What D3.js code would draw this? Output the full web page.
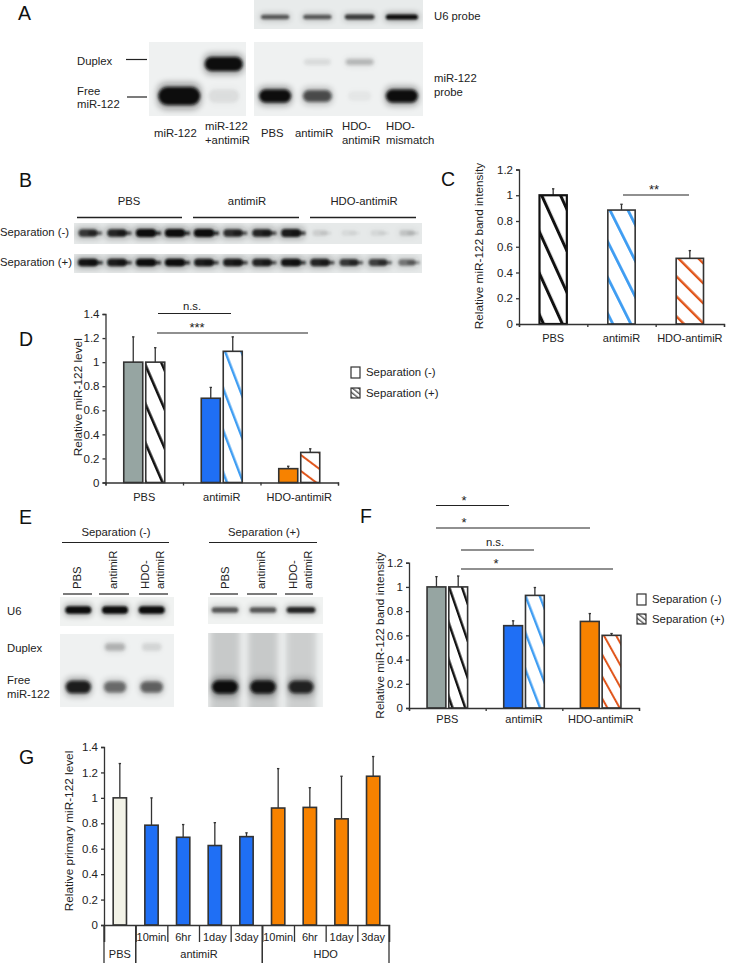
<!DOCTYPE html>
<html>
<head>
<meta charset="utf-8">
<script src="https://cdn.jsdelivr.net/npm/d3@7"></script>
<style>
  body { margin: 0; background: #fff; }
  svg { display: block; }
  text { font-family: "Liberation Sans", Arial, sans-serif; font-size: 11.3px; fill: #222; }
  .panel { font-size: 19.5px; fill: #111; }
  .axis path, .axis line { stroke: #333; stroke-width: 1.3; }
  .axis text { font-size: 11.5px; fill: #222; }
</style>
</head>
<body>
<svg id="fig" width="730" height="963"></svg>
<script>
// ---- data ----
const treatments = ['PBS', 'antimiR', 'HDO-antimiR'];
const separations = ['minus', 'plus'];
const yTicks12 = [0, 0.2, 0.4, 0.6, 0.8, 1, 1.2];
const yTicks14 = [0, 0.2, 0.4, 0.6, 0.8, 1, 1.2, 1.4];

const cValues = [1.0, 0.885, 0.51];
const cErrTop = [1.05, 0.93, 0.57];

const dMinus = [1.0, 0.7, 0.115];
const dMinusErrTop = [1.21, 0.79, 0.135];
const dPlus = [1.0, 1.09, 0.25];
const dPlusErrTop = [1.12, 1.21, 0.28];

const fMinus = [1.0, 0.68, 0.715];
const fMinusErrTop = [1.085, 0.72, 0.78];
const fPlus = [1.0, 0.93, 0.6];
const fPlusErrTop = [1.09, 0.995, 0.615];

const gLabels = ['PBS', '10min', '6hr', '1day', '3day', '10min', '6hr', '1day', '3day'];
const gValues = [1.0, 0.785, 0.69, 0.625, 0.695, 0.92, 0.925, 0.835, 1.17];
const gErrTop = [1.27, 1.0, 0.79, 0.805, 0.725, 1.23, 1.08, 1.17, 1.325];
const gGroups = ['PBS', 'antimiR', 'HDO'];
const gGroupSpan = [[0, 1], [1, 5], [5, 9]];

// gel band darkness per lane
const aU6 = [0.6, 0.6, 0.75, 1];
const aProbeDuplex = [0, 0.07, 0.2, 0];
const aProbeFree = [1, 0.65, 0.03, 1];
const aLoadDuplex = [0, 1];
const aLoadFree = [1, 0.06];
const bMinus = [0.75, 0.85, 1, 1, 1, 0.8, 0.85, 0.9, 0.09, 0.05, 0.06, 0.13];
const bPlus = [0.95, 0.9, 1, 1, 0.9, 0.9, 0.85, 0.95, 0.85, 0.75, 0.7, 0.45];
const eU6Minus = [1, 1, 1];
const eU6Plus = [0.6, 0.6, 0.85];
const eDuplexMinus = [0, 0.22, 0.09];
const eFreeMinus = [0.9, 0.5, 0.55];
const eSmearPlus = [0.23, 0.23, 0.2];
const eFreePlus = [1, 0.95, 0.85];

const colors = { gray: '#96a5a2', blue: '#1f6ff5', orange: '#f78200', cream: '#f2f2e7',
  black: '#111', skyblue: '#3f9df2', rust: '#e0561c' };

const svg = d3.select('#fig');
const defs = svg.append('defs');
function blurFilter(id, sd, xPad, yPad) {
  defs.append('filter').attr('id', id).attr('x', -xPad).attr('y', -yPad)
    .attr('width', 1 + 2 * xPad).attr('height', 1 + 2 * yPad)
    .append('feGaussianBlur').attr('stdDeviation', sd);
}
blurFilter('blurSmall', 1, 0.3, 1);
blurFilter('blur', 1.6, 0.3, 1);
blurFilter('blurHalo', 3.2, 0.5, 1.5);
blurFilter('blurWide', 3, 0.4, 0.2);

let uid = 0;

function hatchFill(color, x, y, spacing, slope, width) {
  const id = 'hatch' + (uid++);
  const perp = spacing / Math.sqrt(1 + slope * slope);
  const angle = Math.atan(1 / slope) * 180 / Math.PI;
  const p = defs.append('pattern').attr('id', id)
    .attr('patternUnits', 'userSpaceOnUse')
    .attr('width', perp).attr('height', perp)
    .attr('patternTransform', `translate(${x},${y}) rotate(${-angle})`);
  p.append('rect').attr('width', perp).attr('height', perp).attr('fill', '#fff');
  p.append('rect').attr('width', width).attr('height', perp).attr('fill', color);
  return `url(#${id})`;
}

function panelLabel(t, x, y) {
  svg.append('text').attr('class', 'panel').attr('x', x).attr('y', y).text(t);
}

function label(t, x, y, anchor) {
  svg.append('text').attr('x', x).attr('y', y).attr('text-anchor', anchor || 'start').text(t);
}

function rule(x1, x2, y, w) {
  svg.append('line').attr('x1', x1).attr('x2', x2).attr('y1', y).attr('y2', y)
    .attr('stroke', '#222').attr('stroke-width', w || 1.2);
}

function bracket(x1, x2, y, t, tx) {
  rule(x1, x2, y);
  const ns = t === 'n.s.';
  svg.append('text').attr('x', tx).attr('y', ns ? y - 4 : y - 1).attr('text-anchor', 'middle')
    .style('font-size', ns ? '11.3px' : '13px').text(t);
}

// one gel strip: rows of bands along a lane scale, clipped to the strip
function blot(box, rows, bg) {
  const id = 'clip' + (uid++);
  defs.append('clipPath').attr('id', id).append('rect')
    .attr('x', box.x).attr('y', box.y).attr('width', box.w).attr('height', box.h);
  const g = svg.append('g').attr('clip-path', `url(#${id})`);
  g.append('rect').attr('x', box.x).attr('y', box.y).attr('width', box.w).attr('height', box.h)
    .attr('fill', bg || '#eff1f1');
  rows.forEach(r => {
    const lane = d3.scaleBand().domain(d3.range(r.values.length)).range(r.range || [box.x, box.x + box.w]);
    const center = i => lane(i) + lane.bandwidth() / 2;
    const rx = d3.scaleLinear().domain([0, 1]).range([r.rx * 0.72, r.rx]);
    const ry = d3.scaleLinear().domain([0, 1]).range([r.ry * 0.7, r.ry]);
    if (r.smear) {
      g.selectAll(null).data(r.values).enter().append('rect')
        .attr('x', (d, i) => center(i) - r.rx)
        .attr('y', box.y - 8)
        .attr('width', r.rx * 2)
        .attr('height', box.h + 16)
        .attr('fill', '#444a4a')
        .attr('opacity', d => d)
        .attr('filter', 'url(#blurWide)');
      return;
    }
    // soft halo under each band
    g.selectAll(null).data(r.values).enter().append('rect')
      .attr('x', (d, i) => center(i) - rx(d) * 1.05)
      .attr('y', d => box.y + r.dy - ry(d) * 1.5)
      .attr('width', d => 2.1 * rx(d))
      .attr('height', d => 3 * ry(d))
      .attr('rx', d => ry(d))
      .attr('fill', '#0a0c0c')
      .attr('opacity', d => d * 0.35)
      .attr('filter', 'url(#blurHalo)');
    if (r.tail) {
      // bands in B trail off to the right of the lane
      g.selectAll(null).data(r.values).enter().append('rect')
        .attr('x', (d, i) => center(i))
        .attr('y', d => box.y + r.dy - ry(d) * 0.4)
        .attr('width', d => rx(d) * 1.15)
        .attr('height', d => ry(d) * 0.9)
        .attr('fill', '#0a0c0c')
        .attr('opacity', d => d * 0.8)
        .attr('filter', 'url(#blurSmall)');
    }
    g.selectAll(null).data(r.values).enter().append('rect')
      .attr('x', (d, i) => center(i) - rx(d) * (r.tail ? 0.85 : 1))
      .attr('y', d => box.y + r.dy - ry(d))
      .attr('width', d => (r.tail ? 1.6 : 2) * rx(d))
      .attr('height', d => 2 * ry(d))
      .attr('rx', d => ry(d))
      .attr('fill', '#0a0c0c')
      .attr('opacity', d => d)
      .attr('filter', `url(#${r.sharp ? 'blurSmall' : 'blur'})`);
  });
}

function tickFmt(d) { return d3.format('.1~f')(d); }

function yAxisG(y, x, ticks, title, titleX, titleY) {
  svg.append('g').attr('class', 'axis').attr('transform', `translate(${x},0)`)
    .call(d3.axisLeft(y).tickValues(ticks).tickFormat(tickFmt).tickSize(3).tickPadding(3));
  svg.append('text').attr('transform', `translate(${titleX},${titleY}) rotate(-90)`)
    .attr('text-anchor', 'middle').style('font-size', '11.8px').text(title);
}

function xCatAxis(band, cats, y, x0, x1, labelDy) {
  const n = cats.length;
  const bounds = d3.scaleLinear().domain([0, n]).range([x0, x1]);
  svg.append('g').attr('class', 'axis').attr('transform', `translate(0,${y})`)
    .call(d3.axisBottom(bounds).tickValues(d3.range(n + 1)).tickFormat('').tickSize(3).tickSizeOuter(3));
  svg.selectAll(null).data(cats).enter().append('text')
    .attr('x', d => band(d) + band.bandwidth() / 2)
    .attr('y', y + labelDy)
    .attr('text-anchor', 'middle')
    .style('font-size', '11px')
    .text(d => d);
}

function drawBar(x, w, y, val, errTop, fill, stroke, sw) {
  const top = y(val), base = y(0);
  const cx = x + w / 2;
  svg.append('line').attr('x1', cx).attr('x2', cx).attr('y1', top).attr('y2', y(errTop))
    .attr('stroke', '#333').attr('stroke-width', 1.3);
  svg.append('line').attr('x1', cx - 1.2).attr('x2', cx + 1.2).attr('y1', y(errTop)).attr('y2', y(errTop))
    .attr('stroke', '#333').attr('stroke-width', 1.3);
  svg.append('rect').attr('x', x).attr('y', top).attr('width', w).attr('height', base - top)
    .attr('fill', fill).attr('stroke', stroke || '#333').attr('stroke-width', sw || 1.6);
}

function legend(x, y1, y2) {
  svg.append('rect').attr('x', x).attr('y', y1 - 5).attr('width', 9).attr('height', 11)
    .attr('fill', '#fff').attr('stroke', '#333').attr('stroke-width', 1.2);
  svg.append('rect').attr('x', x).attr('y', y2 - 5).attr('width', 9).attr('height', 10)
    .attr('fill', hatchFill('#555', x, y2 - 5, 5, 0.8, 1.4)).attr('stroke', '#333').attr('stroke-width', 1.2);
  svg.append('text').attr('x', x + 15).attr('y', y1 + 4).style('font-size', '11.4px').text('Separation (-)');
  svg.append('text').attr('x', x + 15).attr('y', y2 + 4).style('font-size', '11.4px').text('Separation (+)');
}

// grouped chart used by D and F
function groupedChart(cfg) {
  const y = d3.scaleLinear().domain([0, cfg.yMax]).range([cfg.y0, cfg.y1]);
  const band = d3.scaleBand().domain(treatments).range([cfg.x0, cfg.x1]);
  const sub = d3.scaleBand().domain(separations).range([0, band.bandwidth()])
    .paddingInner(0.136).paddingOuter(0.83);
  const solid = [colors.gray, colors.blue, colors.orange];
  const strokes = [colors.black, colors.skyblue, colors.rust];
  treatments.forEach((t, i) => {
    const xm = band(t) + sub('minus'), xp = band(t) + sub('plus'), w = sub.bandwidth();
    drawBar(xm, w, y, cfg.minus[i], cfg.minusErr[i], solid[i]);
    const h = cfg.hatch[i];
    drawBar(xp, w, y, cfg.plus[i], cfg.plusErr[i],
      hatchFill(strokes[i], xp + h.dx, y(cfg.plus[i]), h.spacing, h.slope, h.w));
  });
  yAxisG(y, cfg.x0, cfg.ticks, cfg.title, cfg.titleX, (cfg.y0 + cfg.y1) / 2 + cfg.titleShift);
  xCatAxis(band, treatments, cfg.y0, cfg.x0, cfg.x1, cfg.labelDy);
}

// ---- panel A ----
panelLabel('A', 18, 20);
blot({ x: 254, y: 0, w: 169, h: 29 }, [{ values: aU6, dy: 17, rx: 16, ry: 2.6, sharp: true }], '#e8ebeb');
blot({ x: 149, y: 42, w: 97, h: 74 }, [
  { values: aLoadDuplex, dy: 22, rx: 19, ry: 7, range: [157, 246] },
  { values: aLoadFree, dy: 54, rx: 21, ry: 9, range: [157, 246] }
]);
blot({ x: 254, y: 42, w: 169, h: 74 }, [
  { values: aProbeDuplex, dy: 20, rx: 18, ry: 4 },
  { values: aProbeFree, dy: 54, rx: 16, ry: 6.5 }
]);
rule(126, 147, 59.5);
rule(127, 147, 97);
label('Duplex', 77, 65);
label('Free', 77, 95);
label('miR-122', 77, 108);
label('miR-122', 154, 137);
label('miR-122', 205, 130);
label('+antimiR', 205, 144);
label('PBS', 261, 137);
label('antimiR', 295, 137);
label('HDO-', 342, 130);
label('antimiR', 342, 144);
label('HDO-', 386, 130);
label('mismatch', 386, 144);
label('U6 probe', 434, 20);
label('miR-122', 434, 82);
label('probe', 434, 96);

// ---- panel B ----
panelLabel('B', 19, 187);
rule(77, 182, 217.5, 1.4);
rule(193, 299, 217.5, 1.4);
rule(310, 416, 217.5, 1.4);
label('PBS', 129, 205, 'middle');
label('antimiR', 247, 205, 'middle');
label('HDO-antimiR', 364, 205, 'middle');
blot({ x: 74, y: 223, w: 348, h: 21 }, [{ values: bMinus, dy: 10, rx: 12.5, ry: 4, tail: true, sharp: true }], '#e6e9e9');
blot({ x: 74, y: 254, w: 348, h: 19 }, [{ values: bPlus, dy: 8.5, rx: 12.5, ry: 3.8, tail: true, sharp: true }], '#e6e9e9');
label('Separation (-)', 0, 236);
label('Separation (+)', 0, 266);

// ---- panel C ----
panelLabel('C', 441, 186);
{
  const y = d3.scaleLinear().domain([0, 1.2]).range([324, 169.5]);
  const band = d3.scaleBand().domain(treatments).range([519, 724]).paddingInner(0.6).paddingOuter(0.3);
  const stripe = [colors.black, colors.skyblue, colors.rust];
  const hatch = [{ s: 41.5, m: 2.2, w: 3 }, { s: 36, m: 2, w: 2.8 }, { s: 20, m: 1, w: 2.4 }];
  treatments.forEach((t, i) => {
    const x = band(t);
    drawBar(x, band.bandwidth(), y, cValues[i], cErrTop[i],
      hatchFill(stripe[i], x + 0.5, y(cValues[i]), hatch[i].s, hatch[i].m, hatch[i].w),
      i === 0 ? '#111' : '#333', i === 0 ? 2.2 : 1.6);
  });
  yAxisG(y, 519, yTicks12, 'Relative miR-122 band intensity', 483, 246);
  xCatAxis(band, treatments, 324, 519, 724, 18);
  bracket(623, 689, 195, '**', 654);
}

// ---- panel D ----
panelLabel('D', 19, 346);
groupedChart({
  x0: 105.5, x1: 338, y0: 482.5, y1: 314, yMax: 1.4, ticks: yTicks14,
  minus: dMinus, minusErr: dMinusErrTop, plus: dPlus, plusErr: dPlusErrTop,
  hatch: [{ dx: -3, spacing: 39, slope: 2.3, w: 2.6 }, { dx: 0.5, spacing: 42, slope: 2.6, w: 2.4 }, { dx: -5, spacing: 16, slope: 0.75, w: 2 }],
  title: 'Relative miR-122 level', titleX: 81.5, titleShift: -1, labelDy: 18
});
bracket(158, 231, 313.5, 'n.s.', 192);
bracket(157, 308, 333, '***', 197);
legend(351, 372, 393);

// ---- panel E ----
panelLabel('E', 19, 524);
label('Separation (-)', 116, 536, 'middle');
label('Separation (+)', 264, 536, 'middle');
rule(62, 169, 542.5);
rule(209, 317, 542.5);
[[63, 92], [99, 129], [139, 168], [210, 238], [247, 277], [285, 313]].forEach(d => rule(d[0], d[1], 594));
[['PBS', 81], ['antimiR', 117], ['HDO-', 149], ['antimiR', 164], ['PBS', 229], ['antimiR', 265], ['HDO-', 297], ['antimiR', 312]]
  .forEach(d => {
    svg.append('text').attr('transform', `translate(${d[1]},589) rotate(-90)`).text(d[0]);
  });
blot({ x: 60, y: 597, w: 114, h: 29 }, [{ values: eU6Minus, dy: 13, rx: 13, ry: 3.8, range: [60, 170], sharp: true }], '#f0f2f1');
blot({ x: 208, y: 597, w: 115, h: 27 }, [{ values: eU6Plus, dy: 13, rx: 15, ry: 3.2, range: [206, 320], sharp: true }], '#f0f2f1');
blot({ x: 60, y: 634, w: 114, h: 73 }, [
  { values: eDuplexMinus, dy: 13, rx: 13, ry: 5, range: [60, 170] },
  { values: eFreeMinus, dy: 53, rx: 13, ry: 6.5, range: [60, 170] }
]);
blot({ x: 208, y: 633, w: 115, h: 74 }, [
  { values: eSmearPlus, smear: true, rx: 15, range: [206, 320] },
  { values: eFreePlus, dy: 54, rx: 13, ry: 6.5, range: [206, 320] }
]);
label('U6', 7, 615);
label('Duplex', 7, 652);
label('Free', 7, 684);
label('miR-122', 7, 698);

// ---- panel F ----
panelLabel('F', 360, 523);
groupedChart({
  x0: 409, x1: 639, y0: 708, y1: 562.7, yMax: 1.2, ticks: yTicks12,
  minus: fMinus, minusErr: fMinusErrTop, plus: fPlus, plusErr: fPlusErrTop,
  hatch: [{ dx: -1, spacing: 37, slope: 2.9, w: 2.4 }, { dx: -1.5, spacing: 37, slope: 2.6, w: 2.4 }, { dx: 0.5, spacing: 22, slope: 1.8, w: 2 }],
  title: 'Relative miR-122 band intensity', titleX: 384, titleShift: 0, labelDy: 15
});
bracket(436, 509, 505.5, '*', 464);
bracket(436, 590, 528, '*', 464);
bracket(461, 534, 550, 'n.s.', 495);
bracket(461, 613, 569, '*', 496);
legend(637, 599, 619);

// ---- panel G ----
panelLabel('G', 19, 764);
{
  const x0 = 104, x1 = 389, yBase = 925;
  const y = d3.scaleLinear().domain([0, 1.4]).range([yBase, 747]);
  const idx = d3.range(gValues.length);
  const band = d3.scaleBand().domain(idx).range([x0, x1]).paddingInner(0.58).paddingOuter(0.29);
  const outer = d3.scaleBand().domain(idx).range([x0, x1]);
  const barFill = i => i === 0 ? colors.cream : i < 5 ? colors.blue : colors.orange;
  idx.forEach(i => drawBar(band(i), band.bandwidth(), y, gValues[i], gErrTop[i], barFill(i)));
  yAxisG(y, x0, yTicks14, 'Relative primary miR-122 level', 73, 831);

  const bounds = d3.scaleLinear().domain([0, idx.length]).range([x0, x1]);
  svg.append('g').attr('class', 'axis').attr('transform', `translate(0,${yBase})`)
    .call(d3.axisBottom(bounds).tickValues(d3.range(idx.length + 1)).tickFormat('').tickSize(17).tickSizeOuter(17));
  gGroupSpan.forEach(s => s.forEach(v => {
    svg.append('line').attr('x1', bounds(v)).attr('x2', bounds(v)).attr('y1', yBase).attr('y2', 963)
      .attr('stroke', '#333').attr('stroke-width', 1.3);
  }));
  idx.filter(i => i > 0).forEach(i => {
    svg.append('text').attr('x', outer(i) + outer.bandwidth() / 2).attr('y', 941)
      .attr('text-anchor', 'middle').style('font-size', '11px').text(gLabels[i]);
  });
  gGroups.forEach((t, i) => {
    svg.append('text').attr('x', bounds((gGroupSpan[i][0] + gGroupSpan[i][1]) / 2)).attr('y', 958)
      .attr('text-anchor', 'middle').style('font-size', '11px').text(t);
  });
}
</script>
</body>
</html>
